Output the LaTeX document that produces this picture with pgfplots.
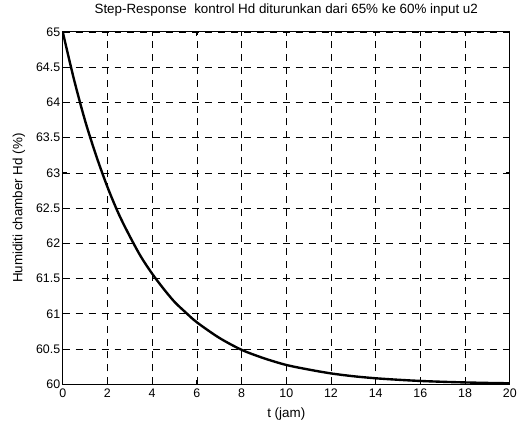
\documentclass[border=0pt]{standalone}
\usepackage{pgfplots}
\pgfplotsset{compat=1.18}
\usepackage{fontspec}
\setmainfont{Liberation Sans}
\begin{document}
\begin{tikzpicture}
\begin{axis}[
  name=main,
  scale only axis,
  width=449bp, height=354bp,
  xmin=0, xmax=20, ymin=60, ymax=65,
  xtick={0,2,...,20},
  ytick={60,60.5,...,65},
  yticklabels={60,60.5,61,61.5,62,62.5,63,63.5,64,64.5,65},
  tick align=inside,
  tick pos=both,
  major tick length=4bp,
  grid=major,
  major grid style={black, dash pattern=on 7bp off 6bp, line width=0.7pt},
  axis line style={black, line width=0.8pt},
  tick style={black, line width=0.8pt},
  tick label style={font=\fontsize{12.5}{13}\selectfont},
  /pgf/number format/assume math mode=true,
  yticklabel style={xshift=1bp},
  xticklabel style={yshift=-1bp},
  title={Step-Response\ \ kontrol Hd diturunkan dari 65\% ke 60\% input u2},
  title style={font=\fontsize{13.5}{14}\selectfont, at={(axis description cs:0.5,1)}, anchor=center, yshift=16bp},
  xlabel={t (jam)},
  xlabel style={font=\fontsize{13.5}{14}\selectfont, at={(axis description cs:0.5,0)}, anchor=center, yshift=-30bp},
  ylabel={Humiditi chamber Hd (\%)},
  ylabel style={font=\fontsize{13.5}{14}\selectfont, at={(axis description cs:0,0.5)}, anchor=center, yshift=44bp},
]
\addplot[black, line width=2.4pt, smooth] coordinates {
(0,65) (0.5,64.33) (1,63.74) (1.5,63.24) (2,62.80) (2.5,62.42) (3,62.10)
(3.5,61.81) (4,61.57) (4.5,61.36) (5,61.17) (5.5,61.02) (6,60.88) (7,60.66)
(8,60.49) (9,60.37) (10,60.275) (11,60.21) (12,60.155) (13,60.115) (14,60.086)
(15,60.065) (16,60.048) (17,60.036) (18,60.027) (19,60.02) (20,60.015)
};
\end{axis}
\useasboundingbox ([xshift=-63bp,yshift=-39bp]main.south west) rectangle ([xshift=8bp,yshift=32bp]main.north east);
\end{tikzpicture}
\end{document}
